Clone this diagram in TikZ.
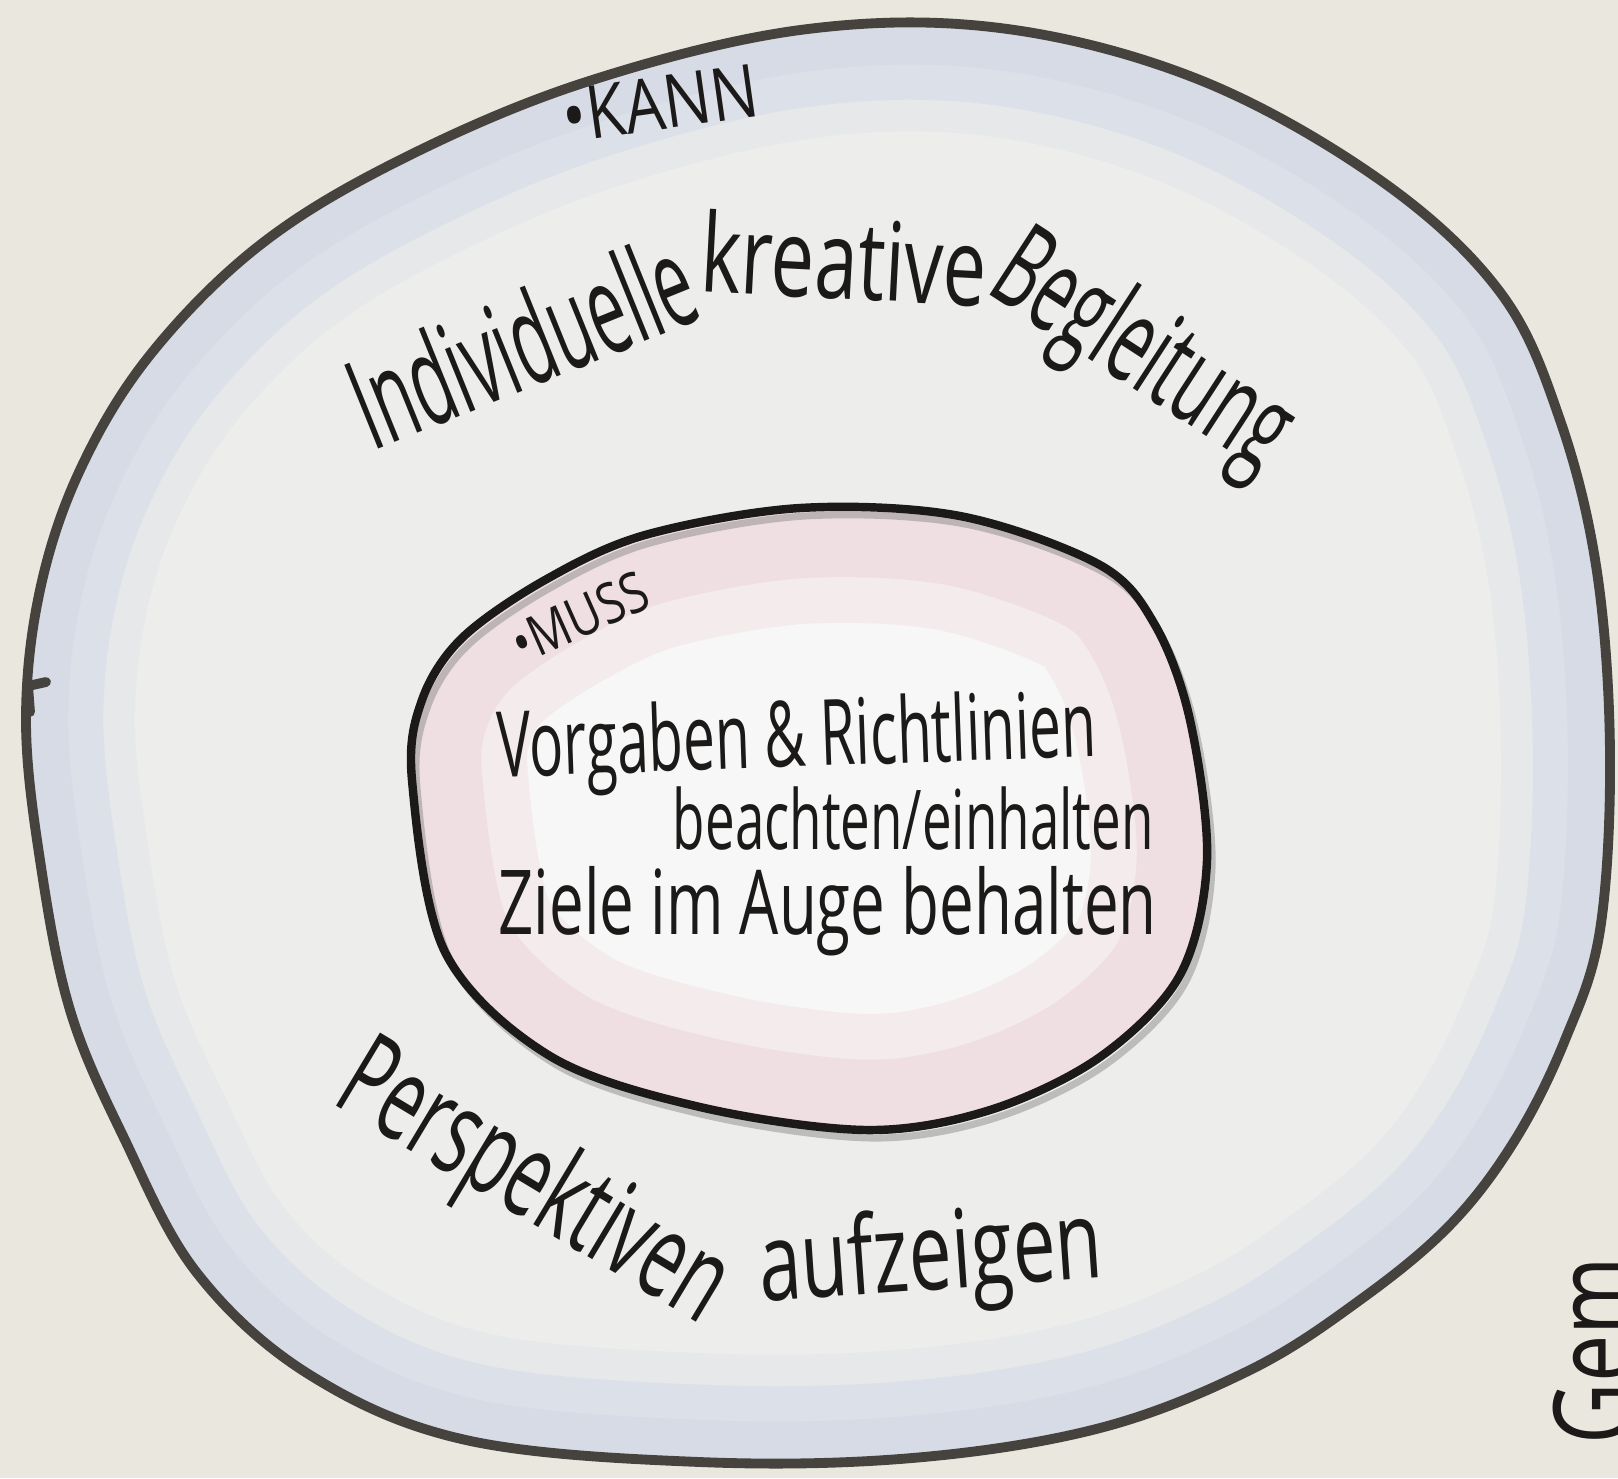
\documentclass[tikz,border=0pt]{standalone}
\usepackage{fontspec}
\setmainfont{Open Sans}
\usetikzlibrary{calc}
\definecolor{paper}{HTML}{EAE8DE}
\definecolor{inside}{HTML}{EDEEEC}
\definecolor{ringblue}{HTML}{B8C4E0}
\definecolor{ringpink}{HTML}{E6B8C3}
\definecolor{pen}{HTML}{1C1A19}
\definecolor{outerpen}{HTML}{46433F}
\newcommand{\hw}[2]{\scalebox{#1}[1]{#2}}
\tikzset{
  handtext/.style={text=pen, inner sep=0pt},
  outerline/.style={draw=outerpen, line width=2.8pt},
  innerline/.style={draw=pen, line width=2.4pt},
}
\begin{document}
\begin{tikzpicture}[x=0.1mm,y=-0.1mm]
\useasboundingbox (0,0) rectangle (1618,1478);
\fill[paper] (0,0) rectangle (1618,1478);
\def\outerpath{plot[smooth cycle, tension=0.6] coordinates {(26,720) (40,590) (80,470) (150,355) (260,245) (400,160) (583,83) (800,30) (1000,28) (1200,80) (1380,180) (1500,292) (1560,420) (1597,572) (1610,754) (1600,930) (1565,1040) (1515,1140) (1450,1225) (1360,1300) (1250,1370) (1100,1428) (912,1458) (700,1462) (466,1440) (310,1375) (197,1273) (124,1138) (70,1010) (40,860)}}
\def\innerpath{plot[smooth cycle, tension=0.55] coordinates {(412,780) (422,700) (462,638) (545,580) (645,535) (800,508) (960,516) (1100,565) (1155,625) (1190,720) (1207,860) (1180,975) (1100,1057) (990,1110) (867,1130) (700,1107) (550,1056) (445,952)}}
% outer disc
\fill[inside] \outerpath;
\begin{scope}
  \clip \outerpath;
  \draw[ringblue, opacity=0.13, line width=62pt] \outerpath;
  \draw[ringblue, opacity=0.2, line width=44pt] \outerpath;
  \draw[ringblue, opacity=0.16, line width=24pt] \outerpath;
\end{scope}
\draw[outerline] \outerpath;
\draw[outerline, line cap=round] (30,712) -- (28,686) -- (46,682);
% inner disc
\fill[inside!50!white] \innerpath;
\begin{scope}
  \clip \innerpath;
  \draw[ringpink, opacity=0.18, line width=66pt] \innerpath;
  \draw[ringpink, opacity=0.22, line width=40pt] \innerpath;
\end{scope}
\begin{scope}[shift={(5,8)}]
  \draw[gray, opacity=0.45, line width=2pt] \innerpath;
\end{scope}
\draw[innerline] \innerpath;
% labels
\begin{scope}[scale=1.032]
\node[handtext, rotate=8, font=\fontsize{21}{24}\selectfont] (kann) at (640,100) {\hw{0.85}{•KANN}};
\node[handtext, rotate=24, font=\fontsize{16}{19}\selectfont] (muss) at (562,598) {\hw{0.82}{•MUSS}};
\node[handtext, rotate=22, font=\fontsize{36}{40}\selectfont] (w1) at (505,330) {\hw{0.53}{Individuelle}};
\node[handtext, rotate=-3, font=\fontsize{31}{36}\selectfont] (w2) at (818,250) {\hw{0.71}{kreative}};
\node[handtext, rotate=-33, font=\fontsize{34}{40}\selectfont] (w3) at (1105,345) {\hw{0.56}{Begleitung}};
\node[handtext, rotate=-31, font=\fontsize{34}{40}\selectfont] (p1) at (515,1150) {\hw{0.6}{Perspektiven}};
\node[handtext, rotate=4, font=\fontsize{31}{36}\selectfont] (p2) at (902,1222) {\hw{0.7}{aufzeigen}};
\node[handtext, rotate=2, font=\fontsize{26}{30}\selectfont] (i1) at (772,720) {\hw{0.62}{Vorgaben \& Richtlinien}};
\node[handtext, font=\fontsize{23.5}{27}\selectfont] (i2) at (885,793) {\hw{0.64}{beachten/einhalten}};
\node[handtext, font=\fontsize{25.5}{29}\selectfont] (i3) at (802,883) {\hw{0.69}{Ziele im Auge behalten}};
\end{scope}
\node[handtext, rotate=90, anchor=base west, font=\fontsize{32}{36}\selectfont] (gem) at (1634,1445) {\hw{0.75}{Gem}};
\end{tikzpicture}
\end{document}
